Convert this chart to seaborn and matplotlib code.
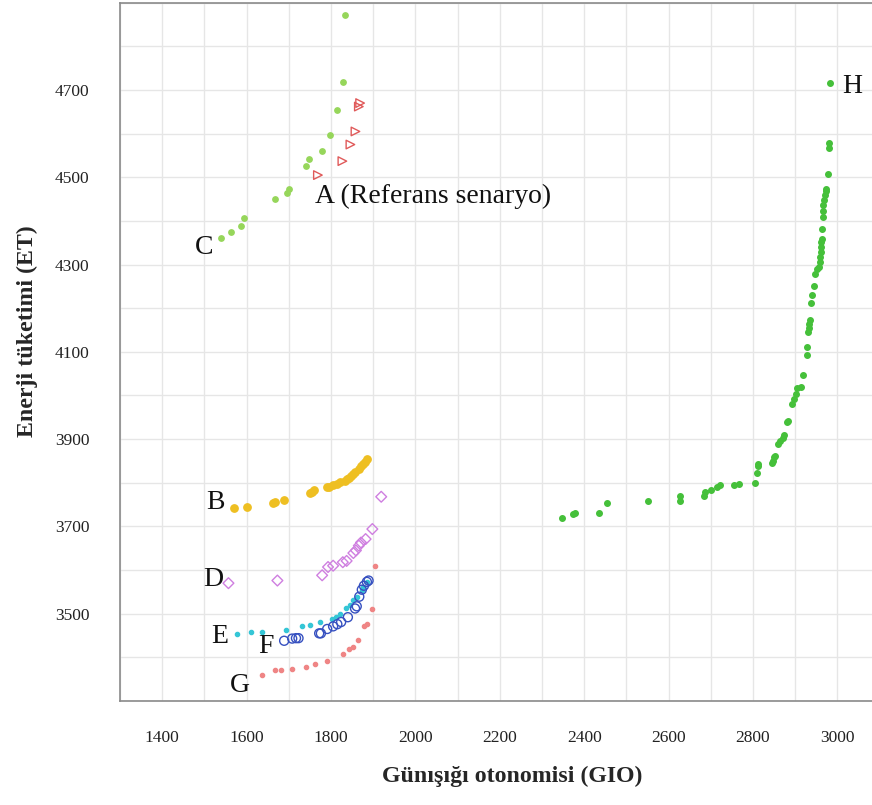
import matplotlib
matplotlib.use('Agg')
import matplotlib.pyplot as plt
import seaborn as sns
import pandas as pd
import numpy as np
from matplotlib.ticker import MultipleLocator

# senaryo noktalari (GIO, ET)
a_gio = [1869, 1866, 1858, 1846, 1827, 1769]
a_et = [4670, 4662, 4605, 4575, 4537, 4505]

c_gio = [1833, 1829, 1814, 1798, 1779, 1747, 1741, 1700, 1695, 1667, 1595, 1586, 1564, 1540]
c_et = [4872, 4718, 4654, 4597, 4561, 4541, 4526, 4472, 4465, 4450, 4407, 4389, 4375, 4360]

b_gio = [1570, 1602, 1663, 1668, 1689, 1750, 1755, 1760, 1790, 1796, 1805, 1815,
         1821, 1832, 1837, 1842, 1847, 1853, 1858, 1866, 1870, 1875, 1880, 1885]
b_et = [3743, 3745, 3753, 3755, 3761, 3776, 3779, 3783, 3790, 3791, 3795, 3798,
        3802, 3805, 3808, 3811, 3816, 3819, 3824, 3831, 3839, 3843, 3848, 3854]

d_gio = [1557, 1673, 1919, 1898, 1882, 1871, 1866, 1859, 1853, 1837, 1828, 1805, 1793, 1779]
d_et = [3570, 3576, 3768, 3694, 3671, 3663, 3656, 3645, 3639, 3621, 3618, 3610, 3607, 3588]

e_gio = [1577, 1610, 1637, 1693, 1731, 1750, 1773, 1802, 1811, 1821, 1835, 1845,
         1853, 1861, 1873, 1877, 1885]
e_et = [3453, 3457, 3457, 3462, 3472, 3475, 3481, 3487, 3492, 3500, 3514, 3521,
        3532, 3539, 3555, 3562, 3572]

f_gio = [1689, 1708, 1717, 1723, 1772, 1776, 1791, 1805, 1815, 1824, 1840, 1857,
         1861, 1867, 1873, 1878, 1885, 1889]
f_et = [3438, 3443, 3444, 3444, 3455, 3455, 3465, 3471, 3476, 3481, 3492, 3512,
        3517, 3539, 3555, 3564, 3573, 3576]

g_gio = [1637, 1668, 1682, 1708, 1740, 1762, 1791, 1829, 1843, 1853, 1865, 1879, 1885, 1897, 1905]
g_et = [3359, 3371, 3372, 3374, 3379, 3385, 3391, 3408, 3420, 3424, 3439, 3472, 3477, 3511, 3610]

h_gio = [2348, 2374, 2379, 2436, 2453, 2551, 2627, 2627, 2683, 2686, 2700, 2715,
         2722, 2756, 2768, 2805, 2809, 2811, 2813, 2844, 2847, 2850, 2853, 2860,
         2864, 2870, 2873, 2880, 2884, 2892, 2898, 2902, 2905, 2914, 2919, 2928,
         2929, 2930, 2932, 2933, 2934, 2937, 2941, 2944, 2946, 2951, 2956, 2959,
         2959, 2960, 2962, 2962, 2963, 2964, 2967, 2967, 2967, 2969, 2971, 2972,
         2974, 2978, 2980, 2980, 2982]
h_et = [3719, 3729, 3731, 3731, 3753, 3758, 3759, 3769, 3769, 3779, 3783, 3791,
        3795, 3796, 3798, 3799, 3822, 3839, 3842, 3845, 3851, 3859, 3862, 3888,
        3896, 3902, 3910, 3940, 3942, 3980, 3992, 4003, 4017, 4020, 4047, 4093,
        4112, 4145, 4154, 4163, 4173, 4212, 4231, 4250, 4279, 4289, 4295, 4307,
        4317, 4328, 4340, 4351, 4358, 4381, 4408, 4423, 4437, 4448, 4460, 4468,
        4473, 4508, 4567, 4578, 4717]

series = {
    'A': (a_gio, a_et),
    'C': (c_gio, c_et),
    'B': (b_gio, b_et),
    'D': (d_gio, d_et),
    'E': (e_gio, e_et),
    'F': (f_gio, f_et),
    'G': (g_gio, g_et),
    'H': (h_gio, h_et),
}

rows = []
for name, (xs, ys) in series.items():
    for x, y in zip(xs, ys):
        rows.append({'seri': name, 'GIO': x, 'ET': y})
df = pd.DataFrame(rows)

# marker style per series: (marker, size, face, edge)
styles = {
    'A': ('>', 38, 'none', '#e05a5a'),
    'C': ('o', 15, '#96d65a', '#96d65a'),
    'B': ('o', 28, '#eebf22', '#eebf22'),
    'D': ('D', 30, 'none', '#cf7fe0'),
    'E': ('o', 9, '#35c6d6', '#35c6d6'),
    'F': ('o', 42, 'none', '#3650c0'),
    'G': ('o', 9, '#ef8585', '#ef8585'),
    'H': ('o', 16, '#45c03a', '#45c03a'),
}

sns.set_style('white')
plt.rcParams['font.family'] = ['Liberation Serif', 'DejaVu Serif']

fig = plt.figure(figsize=(8.72, 8.05), dpi=100)
ax = fig.add_axes([120 / 872, 1 - 701 / 805, 1 - 120 / 872, (701 - 2.7) / 805])

for name, (marker, size, face, edge) in styles.items():
    sub = df[df['seri'] == name]
    sns.scatterplot(data=sub, x='GIO', y='ET', marker=marker, s=size,
                    facecolor=face, edgecolor=edge, linewidth=1.0, ax=ax, zorder=3)

ax.set_xlim(1300, 3082)
ax.set_ylim(3300, 4900)
ax.set_xticks(np.arange(1400, 3001, 200))
ax.set_yticks(np.arange(3500, 4701, 200))
ax.xaxis.set_minor_locator(MultipleLocator(100))
ax.yaxis.set_minor_locator(MultipleLocator(100))
ax.grid(True, which='both', color='#e6e6e6', linewidth=1.0, zorder=0)
ax.set_axisbelow(True)
ax.tick_params(axis='both', which='both', length=0, labelsize=12.5, colors='#222222')
ax.tick_params(axis='x', pad=21)
ax.tick_params(axis='y', pad=22)

for side in ['left', 'bottom', 'top']:
    ax.spines[side].set_color('#8a8a8a')
    ax.spines[side].set_linewidth(1.2)
ax.spines['right'].set_visible(False)

ax.set_xlabel('Günışığı otonomisi (GIO)', fontsize=17.2, fontweight='bold')
ax.set_ylabel('Enerji tüketimi (ET)', fontsize=17.2, fontweight='bold')
ax.xaxis.set_label_coords(0.521, -0.093)
ax.yaxis.set_label_coords(-0.109, 0.53)

# senaryo etiketleri
labels = [
    ('A (Referans senaryo)', 1762, 4455, 'left'),
    ('C', 1499, 4338, 'center'),
    ('H', 3035, 4707, 'center'),
    ('B', 1527, 3754, 'center'),
    ('D', 1520, 3578, 'center'),
    ('E', 1537, 3447, 'center'),
    ('F', 1646, 3424, 'center'),
    ('G', 1584, 3335, 'center'),
]
for text, x, y, ha in labels:
    ax.text(x, y, text, fontsize=20, ha=ha, va='center', color='#111111')

fig.savefig('out.png', dpi=100)
